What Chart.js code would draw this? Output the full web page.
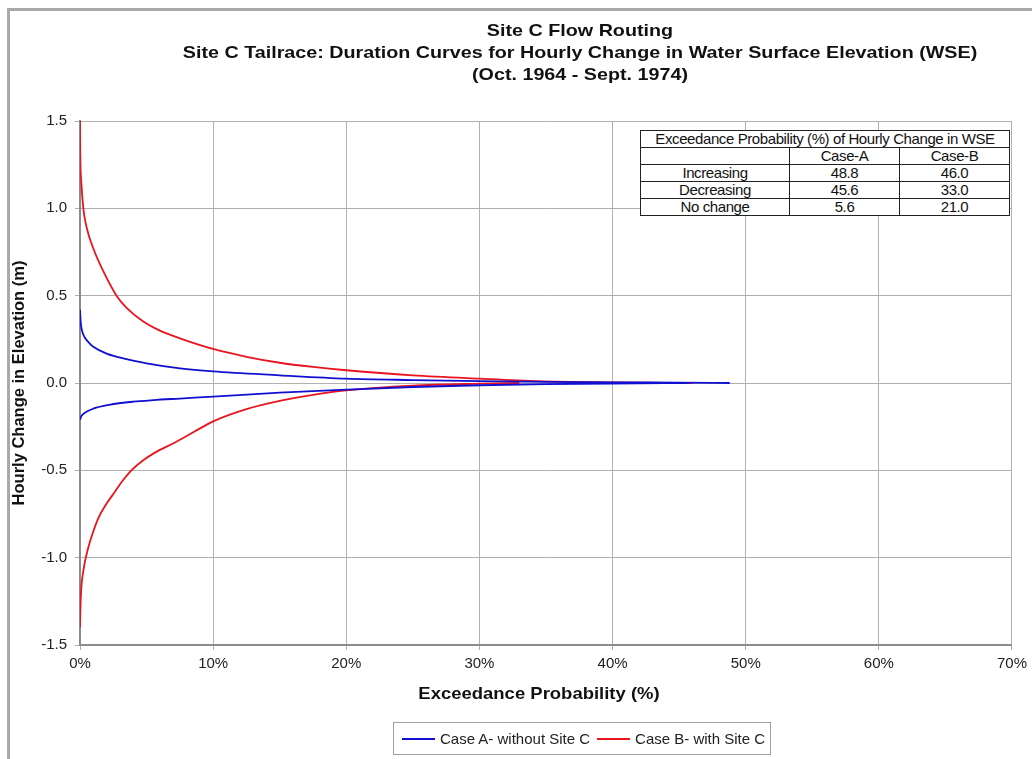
<!DOCTYPE html>
<html>
<head>
<meta charset="utf-8">
<title>Site C Tailrace duration curves</title>
<script src="https://cdn.jsdelivr.net/npm/chart.js@4.4.1/dist/chart.umd.min.js"></script>
<style>
    html, body {
        margin: 0;
        padding: 0;
        background: #ffffff;
        overflow: hidden;
        font-family: "Liberation Sans", Arial, sans-serif;
    }
    #frame {
        position: absolute;
        left: 7px;
        top: 8px;
        width: 1100px;
        height: 800px;
        border-top: 3px solid #a9a9a9;
        border-left: 3px solid #a9a9a9;
    }
    #wrap {
        position: absolute;
        left: 0;
        top: 0;
        width: 1032px;
        height: 759px;
    }
    #chartTitle {
        position: absolute;
        left: 180px;
        width: 800px;
        top: 20px;
        text-align: center;
        white-space: nowrap;
        font-weight: bold;
        font-size: 17px;
        line-height: 22px;
        color: #111;
        transform: scaleX(1.16);
    }
    #xTitle {
        position: absolute;
        left: 389px;
        width: 300px;
        top: 683px;
        text-align: center;
        white-space: nowrap;
        font-weight: bold;
        font-size: 16.5px;
        line-height: 20px;
        color: #111;
        transform: scaleX(1.12);
    }
    #statsTable {
        position: absolute;
        left: 640px;
        top: 130px;
        border-collapse: collapse;
        background: #ffffff;
        font-size: 15px;
        color: #111;
        border: 1.5px solid #222;
    }
    #statsTable td {
        border: 1px solid #222;
        padding: 0;
        height: 16px;
        line-height: 16px;
        text-align: center;
        letter-spacing: -0.4px;
    }
    #legendBox {
        position: absolute;
        left: 393px;
        top: 722px;
        width: 376px;
        height: 31px;
        border: 1px solid #a0a0a0;
        font-size: 15px;
        color: #222;
        display: flex;
        align-items: center;
        white-space: nowrap;
    }
    .swatch {
        display: inline-block;
        width: 33px;
        height: 2px;
        margin: 0 5px 0 8px;
    }
</style>
</head>
<body>
<div id="frame"></div>
<div id="wrap">
    <canvas id="durationChart" width="1032" height="759"></canvas>
</div>

<div id="chartTitle">
    Site C Flow Routing<br>
    Site C Tailrace: Duration Curves for Hourly Change in Water Surface Elevation (WSE)<br>
    (Oct. 1964 - Sept. 1974)
</div>

<div id="xTitle">Exceedance Probability (%)</div>

<table id="statsTable">
    <tr><td colspan="3" style="width:366px">Exceedance Probability (%) of Hourly Change in WSE</td></tr>
    <tr><td style="width:148px"></td><td style="width:109px">Case-A</td><td style="width:109px">Case-B</td></tr>
    <tr><td>Increasing</td><td>48.8</td><td>46.0</td></tr>
    <tr><td>Decreasing</td><td>45.6</td><td>33.0</td></tr>
    <tr><td>No change</td><td>5.6</td><td>21.0</td></tr>
</table>

<div id="legendBox">
    <span class="swatch" style="background:#1010d0"></span>Case A- without Site C
    <span class="swatch" style="background:#e8141e; margin-left:7px"></span>Case B- with Site C
</div>

<script>
// --- Données (probabilité en %, variation en m) ---

// Cas A - sans Site C : hausses horaires
const caseAIncX = [0, 0.05, 0.15, 0.35, 0.7, 1.0, 2.0, 3.5, 5, 7.5, 10, 15, 20, 25, 30, 35, 40, 45, 48.8];
const caseAIncY = [0.42, 0.35, 0.3, 0.262, 0.228, 0.207, 0.168, 0.136, 0.113, 0.084, 0.066, 0.044, 0.025, 0.017, 0.011, 0.007, 0.004, 0.002, 0];

// Cas A - sans Site C : baisses horaires
const caseADecX = [0, 0.1, 0.37, 1.0, 2.2, 4, 5.5, 7.5, 10, 15, 20, 25, 30, 35, 40, 45.6];
const caseADecY = [-0.21, -0.19, -0.17, -0.147, -0.125, -0.107, -0.098, -0.089, -0.078, -0.055, -0.038, -0.023, -0.013, -0.007, -0.003, 0];

// Cas B - avec Site C : hausses horaires
const caseBIncX = [0, 0.02, 0.1, 0.25, 0.5, 1.0, 1.75, 2.74, 3.5, 4.7, 6, 7.5, 10, 12.5, 15, 17.5, 20, 25, 30, 34.4, 40, 46];
const caseBIncY = [1.5, 1.31, 1.15, 1.0, 0.89, 0.77, 0.64, 0.5, 0.43, 0.355, 0.3, 0.256, 0.195, 0.15, 0.116, 0.092, 0.073, 0.044, 0.025, 0.011, 0.004, 0];

// Cas B - avec Site C : baisses horaires
const caseBDecX = [0, 0.03, 0.07, 0.25, 0.62, 1.0, 1.37, 2.0, 2.6, 3.2, 3.86, 4.7, 5.6, 7.1, 8.6, 10, 12.5, 15, 17.5, 20, 25, 30, 33];
const caseBDecY = [-1.4, -1.3, -1.21, -1.076, -0.943, -0.85, -0.775, -0.69, -0.625, -0.56, -0.5, -0.445, -0.4, -0.342, -0.278, -0.22, -0.15, -0.103, -0.068, -0.042, -0.015, -0.004, 0];

// Graduations des axes
const xTicks = [0, 10, 20, 30, 40, 50, 60, 70];
const yTicks = [-1.5, -1.0, -0.5, 0.0, 0.5, 1.0, 1.5];

const blue = "#1010d0";
const red = "#e8141e";

// Assemble les couples x / y pour Chart.js
function toPoints(xs, ys) {
    return xs.map((x, i) => ({ x: x, y: ys[i] }));
}

function curve(label, xs, ys, color) {
    return {
        label: label,
        data: toPoints(xs, ys),
        borderColor: color,
        backgroundColor: color,
        borderWidth: 1.8,
        pointRadius: 0,
        showLine: true,
        fill: false,
        cubicInterpolationMode: "monotone"
    };
}

const tickFont = { family: "Liberation Sans", size: 15 };
const titleFont = { family: "Liberation Sans", size: 16.5, weight: "bold" };

new Chart(document.getElementById("durationChart"), {
    type: "scatter",
    data: {
        datasets: [
            curve("Case A- without Site C", caseAIncX, caseAIncY, blue),
            curve("Case A- without Site C (dec)", caseADecX, caseADecY, blue),
            curve("Case B- with Site C", caseBIncX, caseBIncY, red),
            curve("Case B- with Site C (dec)", caseBDecX, caseBDecY, red)
        ]
    },
    options: {
        responsive: false,
        animation: false,
        layout: { padding: { left: 8, right: 16, top: 121, bottom: 0 } },
        plugins: {
            legend: { display: false },
            tooltip: { enabled: false }
        },
        scales: {
            x: {
                type: "linear",
                min: xTicks[0],
                max: xTicks[xTicks.length - 1],
                afterBuildTicks: (scale) => { scale.ticks = xTicks.map(v => ({ value: v })); },
                afterFit: (scale) => { scale.height = 114; },
                ticks: {
                    color: "#222",
                    font: tickFont,
                    padding: 5,
                    maxRotation: 0,
                    callback: (v) => v + "%"
                },
                grid: { color: "#b0b0b0", lineWidth: 1, tickLength: 5 },
                border: { color: "#8c8c8c", width: 2 }
            },
            y: {
                type: "linear",
                min: yTicks[0],
                max: yTicks[yTicks.length - 1],
                afterBuildTicks: (scale) => { scale.ticks = yTicks.map(v => ({ value: v })); },
                afterFit: (scale) => { scale.width = 72; },
                ticks: {
                    color: "#222",
                    font: tickFont,
                    padding: 8,
                    callback: (v) => Number(v).toFixed(1)
                },
                grid: { color: "#b0b0b0", lineWidth: 1, tickLength: 5 },
                border: { color: "#8c8c8c", width: 2 },
                title: {
                    display: true,
                    text: "Hourly Change in Elevation (m)",
                    color: "#111",
                    font: titleFont,
                    padding: { top: 2, bottom: 0 }
                }
            }
        }
    }
});
</script>
</body>
</html>
